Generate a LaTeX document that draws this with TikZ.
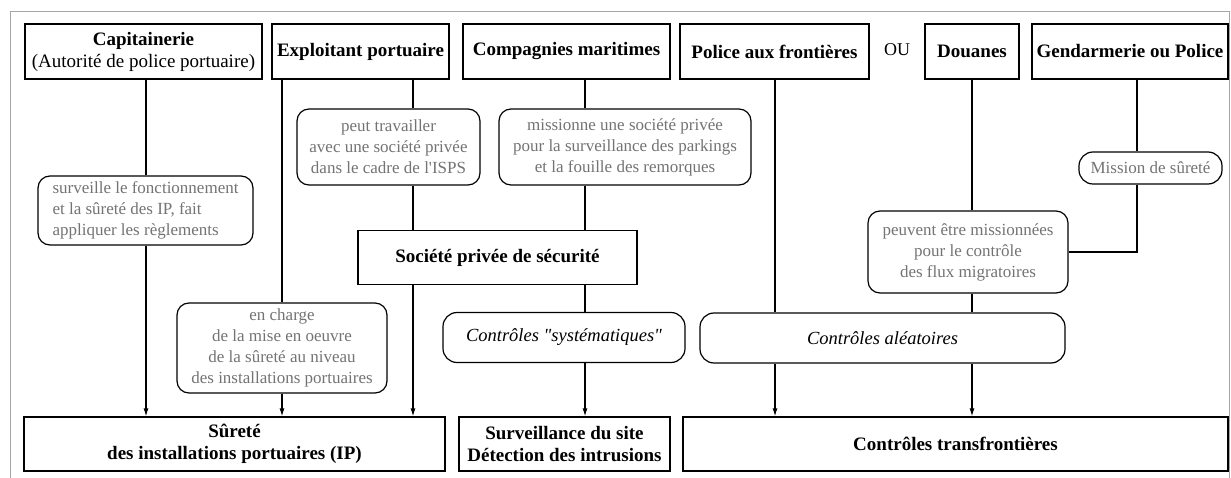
\documentclass[tikz,border=0pt]{standalone}
\usepackage{fontspec}
\setmainfont{Liberation Serif}[Ligatures=TeXOff]
\usetikzlibrary{arrows.meta, calc}

\begin{document}
\begin{tikzpicture}[x=1pt, y=-1pt, line width=1.2pt,
    acteur/.style={draw, minimum height=55pt, inner sep=0pt, align=center, font=\fontsize{19}{22}\selectfont\bfseries},
    note/.style={draw, rounded corners=12pt, inner sep=0pt, align=center, text=black!55, font=\fontsize{17}{21}\selectfont},
    controle/.style={draw, rounded corners=14pt, inner sep=0pt, minimum height=50pt, font=\fontsize{18.5}{22}\selectfont\itshape},
    fleche/.style={-{Latex[length=8pt,width=5pt]}}]
    \useasboundingbox (0,0) rectangle (1231,478);
    % Frame
    \draw[black!35, line width=1pt] (10,478) -- (10,12) -- (1229.5,12) -- (1229.5,478);

    % Top row
    \node[acteur, minimum width=237pt] (capit) at (143.5,51.5) {Capitainerie\\{\mdseries (Autorité de police portuaire)}};
    \node[acteur, minimum width=177pt] (exploit) at (360.5,51.5) {Exploitant portuaire};
    \node[acteur, minimum width=207pt] (compagnies) at (566.5,51.5) {Compagnies maritimes};
    \node[acteur, minimum width=189pt] (pols) at (774.5,51.5) {Police aux frontières};
    \node[font=\fontsize{18}{22}\selectfont] (ou) at (897,50) {OU};
    \node[acteur, minimum width=94pt] (douanes) at (972,51.5) {Douanes};
    \node[acteur, minimum width=196pt] (gend) at (1130,51.5) {Gendarmerie ou Police};

    % Notes
    \node[note, minimum width=183pt, minimum height=76pt] (peut) at (388.5,147) {peut travailler\\avec une société privée\\dans le cadre de l'ISPS};
    \node[note, minimum width=252pt, minimum height=76pt] (missionne) at (625,147) {missionne une société privée\\pour la surveillance des parkings\\et la fouille des remorques};
    \node[note, align=left, minimum width=215pt, minimum height=69pt] (surveille) at (145.5,210.5) {surveille le fonctionnement\\et la sûreté des IP, fait\\appliquer les règlements};
    \node[note, minimum width=143pt, minimum height=32pt, rounded corners=14pt] (mission) at (1150.5,168) {Mission de sûreté};
    \node[note, minimum width=200pt, minimum height=82pt] (peuvent) at (968,252) {peuvent être missionnées\\pour le contrôle\\des flux migratoires};
    \node[note, minimum width=210pt, minimum height=90pt] (encharge) at (282,348) {en charge\\de la mise en oeuvre\\de la sûreté au niveau\\des installations portuaires};

    % Middle
    \node[acteur, minimum width=279pt, minimum height=54pt] (societe) at (497.5,257.5) {Société privée de sécurité};
    \node[controle, minimum width=242pt] (syst) at (564,337.5) {Contrôles "systématiques"};
    \node[controle, minimum width=365pt] (aleat) at (882.5,338) {Contrôles aléatoires};

    % Bottom row
    \node[acteur, minimum width=421pt, minimum height=54pt] (surete) at (234.5,444) {Sûreté\\des installations portuaires (IP)};
    \node[acteur, minimum width=211pt, minimum height=54pt] (surveillance) at (564.5,444) {Surveillance du site\\Détection des intrusions};
    \node[acteur, minimum width=545pt, minimum height=54pt] (transf) at (955.5,444) {Contrôles transfrontières};

    % Columns
    \coordinate (c0) at (146,0);
    \coordinate (c6) at (282,0);
    \coordinate (c1) at (413,0);
    \coordinate (c2) at (585,0);
    \coordinate (c3) at (775,0);
    \coordinate (c4) at (972,0);
    \coordinate (c5) at (1137,0);

    % Capitainerie
    \draw (capit.south -| c0) -- (surveille.north -| c0);
    \draw[fleche] (surveille.south -| c0) -- (surete.north -| c0);
    % Exploitant portuaire
    \draw (exploit.south -| c6) -- (encharge.north -| c6);
    \draw[fleche] (encharge.south -| c6) -- (surete.north -| c6);
    \draw (exploit.south -| c1) -- (peut.north -| c1);
    \draw (peut.south -| c1) -- (societe.north -| c1);
    \draw[fleche] (societe.south -| c1) -- (surete.north -| c1);
    % Compagnies maritimes
    \draw (compagnies.south -| c2) -- (missionne.north -| c2);
    \draw (missionne.south -| c2) -- (societe.north -| c2);
    \draw (societe.south -| c2) -- (syst.north -| c2);
    \draw[fleche] (syst.south -| c2) -- (surveillance.north -| c2);
    % Police aux frontieres
    \draw (pols.south -| c3) -- (aleat.north -| c3);
    \draw[fleche] (aleat.south -| c3) -- (transf.north -| c3);
    % Douanes
    \draw (douanes.south -| c4) -- (peuvent.north -| c4);
    \draw (peuvent.south -| c4) -- (aleat.north -| c4);
    \draw[fleche] (aleat.south -| c4) -- (transf.north -| c4);
    % Gendarmerie
    \draw (gend.south -| c5) -- (mission.north -| c5);
    \draw (mission.south -| c5) |- (peuvent.east);
\end{tikzpicture}
\end{document}
